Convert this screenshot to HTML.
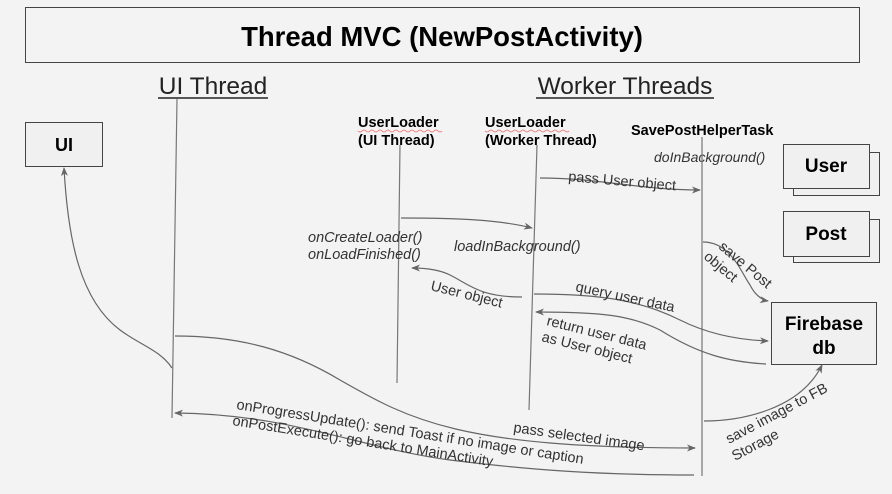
<!DOCTYPE html>
<html><head><meta charset="utf-8"><style>
html,body{margin:0;padding:0;background:#f3f3f3;}
svg{display:block;font-family:"Liberation Sans",Arial,sans-serif;}
</style></head><body>
<svg width="892" height="494" viewBox="0 0 892 494" xmlns="http://www.w3.org/2000/svg">
<defs>
<marker id="a" markerWidth="10" markerHeight="10" refX="8" refY="5" orient="auto" markerUnits="userSpaceOnUse">
<path d="M0,1.5 L9,5 L0,8.5 L2.5,5 Z" fill="#666"/>
</marker>
</defs>
<rect width="892" height="494" fill="#f3f3f3"/>
<rect x="25.5" y="7.5" width="834" height="55" fill="#f3f3f3" stroke="#444" stroke-width="1"/>
<text x="442" y="46" font-size="27.5" font-weight="bold" text-anchor="middle" fill="#000">Thread MVC (NewPostActivity)</text>

<text x="213" y="94" font-size="24.5" text-anchor="middle" fill="#222">UI Thread</text>
<line x1="158" y1="98" x2="268" y2="98" stroke="#222" stroke-width="1.5"/>
<text x="625" y="94" font-size="24.5" text-anchor="middle" fill="#222">Worker Threads</text>
<line x1="536" y1="98" x2="714" y2="98" stroke="#222" stroke-width="1.5"/>

<rect x="25.5" y="122.5" width="77" height="44" fill="#f0f0f0" stroke="#444"/>
<text x="64" y="151" font-size="18" font-weight="bold" text-anchor="middle">UI</text>

<rect x="793.5" y="152.5" width="86" height="43" fill="#f0f0f0" stroke="#444"/>
<rect x="783.5" y="144.5" width="86" height="44" fill="#f0f0f0" stroke="#444"/>
<text x="826" y="172" font-size="19" font-weight="bold" text-anchor="middle">User</text>
<rect x="793.5" y="219.5" width="86" height="43" fill="#f0f0f0" stroke="#444"/>
<rect x="783.5" y="211.5" width="86" height="45" fill="#f0f0f0" stroke="#444"/>
<text x="826" y="240" font-size="19" font-weight="bold" text-anchor="middle">Post</text>
<rect x="771.5" y="302.5" width="105" height="62" fill="#f0f0f0" stroke="#444"/>
<text x="824" y="330" font-size="19" font-weight="bold" text-anchor="middle">Firebase</text>
<text x="824" y="354" font-size="19" font-weight="bold" text-anchor="middle">db</text>

<text x="358" y="127" font-size="14.5" font-weight="bold">UserLoader</text>
<text x="358" y="145" font-size="14.5" font-weight="bold">(UI Thread)</text>
<text x="485" y="127" font-size="14.5" font-weight="bold">UserLoader</text>
<text x="485" y="145" font-size="14.5" font-weight="bold">(Worker Thread)</text>
<path d="M358,131 q2,2 4,0 t4,0 t4,0 t4,0 t4,0 t4,0 t4,0 t4,0 t4,0 t4,0 t4,0 t4,0 t4,0 t4,0 t4,0 t4,0 t4,0 t4,0 t4,0 t4,0 t4,0" fill="none" stroke="#e66" stroke-width="0.7"/>
<path d="M485,131 q2,2 4,0 t4,0 t4,0 t4,0 t4,0 t4,0 t4,0 t4,0 t4,0 t4,0 t4,0 t4,0 t4,0 t4,0 t4,0 t4,0 t4,0 t4,0 t4,0 t4,0 t4,0" fill="none" stroke="#e66" stroke-width="0.7"/>
<text x="631" y="135" font-size="14.5" font-weight="bold">SavePostHelperTask</text>
<text x="654" y="162" font-size="14" font-style="italic" fill="#333">doInBackground()</text>

<g stroke="#777" stroke-width="1.2" fill="none">
<line x1="177" y1="99" x2="172" y2="418"/>
<line x1="400" y1="145" x2="397" y2="383"/>
<line x1="537" y1="145" x2="529" y2="410"/>
<line x1="702" y1="137" x2="702" y2="476"/>
</g>

<g stroke="#666" stroke-width="1.2" fill="none" marker-end="url(#a)">
<path d="M540,178 C600,178 640,190 700,190"/>
<path d="M401,218 C460,218 500,220 532,228"/>
<path d="M522,297 C480,297 470,285 450,275 C440,270 425,268 412,268"/>
<path d="M534,294 C600,294 640,300 680,320 C710,335 740,340 768,341"/>
<path d="M766,364 C730,362 700,355 660,330 C630,315 600,312 536,312"/>
<path d="M703,242 C730,242 740,270 750,285 C755,295 762,300 768,301"/>
<path d="M175,336 C240,336 290,350 340,380 C410,420 460,448 695,448"/>
<path d="M172,368 C160,350 140,345 120,330 C80,300 68,240 64,168"/>
<path d="M694,475 C600,475 530,470 450,460 C360,448 290,414 175,413"/>
<path d="M704,421 C740,421 800,410 822,365"/>
</g>

<g font-size="14.5" fill="#333">
<text x="568" y="181" transform="rotate(5 568 181)">pass User object</text>
<text x="308" y="242" font-style="italic">onCreateLoader()</text>
<text x="308" y="259" font-style="italic">onLoadFinished()</text>
<text x="454" y="251" font-style="italic">loadInBackground()</text>
<text x="430" y="290" transform="rotate(14 430 290)">User object</text>
<text x="575" y="291" transform="rotate(12 575 291)">query user data</text>
<text x="546" y="325" transform="rotate(14 546 325)">return user data</text>
<text x="541" y="341" transform="rotate(14 541 341)">as User object</text>
<text x="718" y="248" transform="rotate(40 718 248)">save Post</text>
<text x="703" y="258" transform="rotate(40 703 258)">object</text>
<text x="513" y="432" transform="rotate(8 513 432)">pass selected image</text>
<text x="236" y="409" transform="rotate(9 236 409)">onProgressUpdate(): send Toast if no image or caption</text>
<text x="232" y="425" transform="rotate(9 232 425)">onPostExecute(): go back to MainActivity</text>
<text x="729" y="444" transform="rotate(-28 729 444)">save image to FB</text>
<text x="735" y="461" transform="rotate(-28 735 461)">Storage</text>
</g>
</svg>
</body></html>
